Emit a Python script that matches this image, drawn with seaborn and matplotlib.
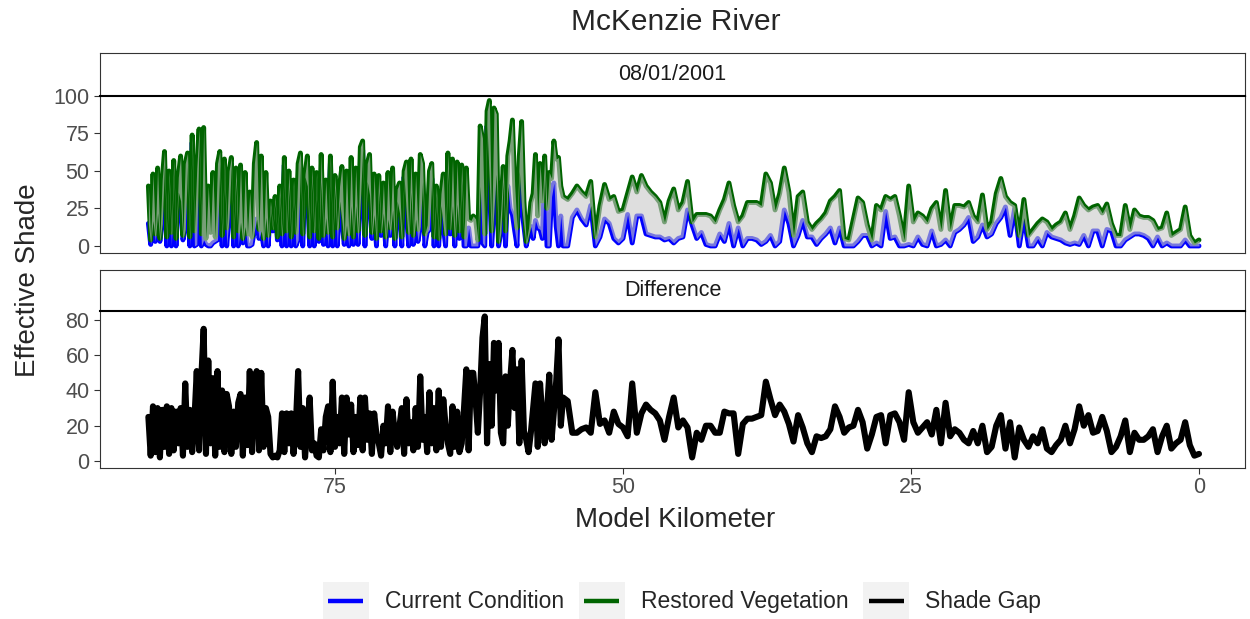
import numpy as np
import pandas as pd
import matplotlib
matplotlib.use("Agg")
import matplotlib.pyplot as plt
import seaborn as sns
from matplotlib.legend_handler import HandlerBase
from matplotlib.patches import Rectangle
from matplotlib.lines import Line2D

# ---------------- data ----------------
# upstream reach (km 91.2 -> 55.2) sampled every 0.2 km,
# downstream reach (km 54.8 -> 0) sampled every 0.4 km
km_upper_start, km_upper_step, n_upper = 91.2, 0.2, 181
km_lower_start, km_lower_step = 54.8, 0.4

restored = [
    # upstream reach
    40, 4, 48, 8, 52, 5, 44, 63, 6, 50,
    9, 57, 5, 46, 60, 7, 55, 62, 6, 74,
    10, 52, 78, 8, 79, 5, 40, 9, 49, 6,
    55, 63, 7, 58, 12, 50, 59, 6, 52, 10,
    54, 5, 49, 8, 36, 6, 55, 69, 11, 60,
    5, 49, 7, 30, 12, 33, 6, 40, 8, 59,
    10, 50, 6, 44, 9, 55, 62, 8, 48, 60,
    6, 52, 10, 49, 5, 61, 7, 44, 9, 60,
    6, 47, 12, 40, 53, 5, 50, 8, 59, 6,
    52, 10, 66, 70, 7, 55, 61, 9, 48, 5,
    47, 10, 42, 6, 49, 12, 52, 5, 38, 42,
    6, 50, 56, 9, 58, 7, 48, 11, 61, 55,
    8, 14, 50, 55, 6, 40, 5, 35, 48, 8,
    62, 12, 58, 7, 56, 10, 54, 6, 52, 18,
    17, 20, 18, 4, 80, 72, 8, 90, 97, 10,
    92, 88, 3, 25, 53, 10, 60, 70, 84, 40,
    12, 60, 83, 30, 3, 12, 29, 35, 61, 20,
    55, 30, 60, 25, 49, 45, 70, 58, 59, 40,
    33,
    # downstream reach
    31, 35, 40, 36, 33, 43, 6, 27, 41,
    31, 33, 23, 24, 35, 46, 36, 47, 40, 36,
    33, 29, 16, 30, 38, 24, 29, 43, 16, 21,
    21, 21, 20, 16, 24, 31, 42, 27, 16, 20,
    29, 29, 29, 27, 48, 42, 24, 35, 52, 36,
    7, 33, 36, 16, 11, 15, 18, 22, 30, 33,
    37, 5, 4, 18, 32, 29, 14, 4, 27, 24,
    33, 31, 33, 20, 4, 40, 16, 22, 20, 16,
    25, 29, 11, 37, 11, 27, 27, 26, 29, 20,
    16, 34, 11, 16, 35, 45, 33, 29, 27, 7,
    31, 7, 11, 15, 18, 16, 11, 14, 16, 22,
    11, 20, 32, 27, 24, 26, 27, 22, 28, 15,
    7, 7, 27, 11, 24, 20, 19, 19, 17, 11,
    12, 22, 7, 9, 11, 26, 7, 2, 4,
]

shade_gap = [
    # upstream reach
    25, 3, 31, 5, 30, 2, 29, 8, 31, 4,
    30, 6, 28, 10, 30, 3, 44, 8, 29, 5,
    24, 51, 6, 48, 75, 4, 57, 10, 47, 3,
    51, 8, 40, 5, 38, 31, 4, 28, 8, 33,
    38, 3, 36, 9, 51, 5, 45, 51, 6, 50,
    8, 30, 25, 4, 2, 3, 2, 6, 27, 5,
    27, 10, 27, 4, 20, 51, 8, 30, 2, 20,
    36, 6, 10, 3, 2, 18, 6, 25, 31, 5,
    45, 8, 25, 10, 36, 4, 36, 15, 32, 5,
    25, 9, 36, 6, 36, 12, 27, 4, 27, 15,
    10, 3, 20, 10, 31, 5, 28, 15, 8, 20,
    30, 4, 35, 10, 22, 6, 30, 8, 48, 12,
    25, 5, 39, 10, 30, 6, 40, 8, 35, 20,
    10, 4, 31, 8, 28, 5, 10, 30, 52, 6,
    50, 50, 35, 16, 40, 70, 82, 10, 55, 20,
    67, 40, 67, 16, 10, 48, 20, 45, 63, 30,
    52, 10, 57, 17, 12, 5, 16, 30, 44, 8,
    44, 25, 10, 28, 49, 12, 28, 45, 69, 20,
    36,
    # downstream reach
    34, 16, 16, 18, 19, 16, 39, 21, 23,
    16, 28, 21, 19, 14, 44, 16, 27, 32, 29,
    27, 23, 12, 25, 36, 19, 23, 19, 2, 16,
    12, 20, 20, 16, 16, 28, 27, 27, 4, 21,
    24, 24, 25, 26, 45, 35, 26, 32, 28, 21,
    11, 26, 19, 10, 5, 14, 13, 14, 18, 31,
    25, 16, 19, 20, 29, 22, 7, 15, 25, 26,
    10, 26, 27, 22, 12, 39, 22, 16, 19, 22,
    15, 29, 10, 33, 14, 18, 16, 12, 10, 17,
    10, 20, 5, 8, 20, 26, 7, 22, 2, 19,
    12, 8, 14, 10, 18, 7, 5, 9, 12, 20,
    10, 18, 31, 20, 26, 16, 17, 25, 17, 5,
    8, 14, 23, 5, 16, 12, 12, 14, 18, 5,
    14, 20, 7, 10, 12, 22, 9, 3, 4,
]

series_names = ["Current Condition", "Restored Vegetation", "Shade Gap"]
series_colors = ["#0000FF", "#006400", "#000000"]
top_yticks = [0, 25, 50, 75, 100]
bottom_yticks = [0, 20, 40, 60, 80]
x_ticks = [0, 25, 50, 75]
strip_labels = ["08/01/2001", "Difference"]

# ---------------- derived table ----------------
n = len(restored)
n_lower = n - n_upper
model_km = np.round(np.concatenate([
    km_upper_start - km_upper_step * np.arange(n_upper),
    km_lower_start - km_lower_step * np.arange(n_lower),
]), 2)
restored_a = np.array(restored, dtype=float)
gap_a = np.array(shade_gap, dtype=float)
current_a = np.clip(restored_a - gap_a, 0, None)

df_top = pd.DataFrame({
    "km": np.concatenate([model_km, model_km]),
    "shade": np.concatenate([current_a, restored_a]),
    "series": [series_names[0]] * n + [series_names[1]] * n,
})
df_gap = pd.DataFrame({"km": model_km, "shade": gap_a})

# ---------------- style ----------------
sns.set_style("ticks")
plt.rcParams["font.family"] = ["Liberation Sans", "DejaVu Sans"]

W, H = 1250, 619
fig = plt.figure(figsize=(W / 100, H / 100), dpi=100)

def fx(px):
    return px / W

def fy(px):
    return 1 - px / H

left_px, right_px = 100, 1245
pw = fx(right_px - left_px)

strip1 = fig.add_axes([fx(left_px), fy(96), pw, (96 - 53) / H])
ax1 = fig.add_axes([fx(left_px), fy(253), pw, (253 - 96) / H])
strip2 = fig.add_axes([fx(left_px), fy(311), pw, (311 - 270) / H])
ax2 = fig.add_axes([fx(left_px), fy(468), pw, (468 - 311) / H])

border = "#333333"
tick_color = "#4D4D4D"

for s, lab in zip([strip1, strip2], strip_labels):
    s.set_facecolor("white")
    s.set_xticks([])
    s.set_yticks([])
    for sp in s.spines.values():
        sp.set_color(border)
        sp.set_linewidth(0.8)
    s.text(0.5, 0.5, lab, transform=s.transAxes, ha="center", va="center",
           fontsize=15.5, color="#1A1A1A")

# top panel
palette = {series_names[0]: series_colors[0], series_names[1]: series_colors[1]}
sns.lineplot(data=df_top, x="km", y="shade", hue="series", palette=palette,
             estimator=None, sort=False, linewidth=3.5, legend=False, ax=ax1,
             solid_joinstyle="round", solid_capstyle="round")
ax1.fill_between(model_km, current_a, restored_a, color="#C8C8C8", alpha=0.6,
                 linewidth=0, zorder=3)

# bottom panel
sns.lineplot(data=df_gap, x="km", y="shade", color=series_colors[2],
             estimator=None, sort=False, linewidth=4.4, ax=ax2,
             solid_joinstyle="round", solid_capstyle="round")

xl = ((1199 - left_px) / 11.52, (1199 - right_px) / 11.52)
for ax in (ax1, ax2):
    ax.set_xlim(xl)
    ax.set_xlabel("")
    ax.set_ylabel("")
    ax.grid(False)
    ax.set_facecolor("white")
    for sp in ax.spines.values():
        sp.set_visible(True)
        sp.set_color(border)
        sp.set_linewidth(0.8)
    ax.tick_params(axis="y", length=4.5, width=0.8, color=border,
                   labelcolor=tick_color, labelsize=15.5, pad=3)

ax1.set_ylim(-4.7, 100)
ax1.set_yticks(top_yticks)
ax1.tick_params(axis="x", bottom=False, labelbottom=False)
ax1.spines["top"].set_color("black")
ax1.spines["top"].set_linewidth(1.5)

ax2.set_ylim(-4.0, 85.1)
ax2.set_yticks(bottom_yticks)
ax2.set_xticks(x_ticks)
ax2.tick_params(axis="x", length=4.5, width=0.8, color=border,
                labelcolor=tick_color, labelsize=15.5, pad=2)
ax2.spines["top"].set_color("black")
ax2.spines["top"].set_linewidth(1.5)

# titles
fig.text(fx(676), fy(22), "McKenzie River", ha="center", va="center", fontsize=21.5)
fig.text(fx(675), fy(520), "Model Kilometer", ha="center", va="center", fontsize=20)
fig.text(fx(28), fy(280), "Effective Shade", ha="center", va="center",
         rotation=90, fontsize=20)

# legend with grey key boxes
class KeyBox(HandlerBase):
    def create_artists(self, legend, orig_handle, xdescent, ydescent, width,
                       height, fontsize, trans):
        box = Rectangle((-xdescent, -ydescent - 0.1 * height), width, height * 1.2,
                        facecolor="#F2F2F2", edgecolor="none", transform=trans)
        y = -ydescent + height / 2
        ln = Line2D([-xdescent + 0.12 * width, -xdescent + 0.88 * width], [y, y],
                    color=orig_handle.get_color(), linewidth=3.2,
                    solid_capstyle="butt", transform=trans)
        return [box, ln]

handles = [Line2D([], [], color=c) for c in series_colors]
fig.legend(handles, series_names, handler_map={Line2D: KeyBox()},
           loc="center", bbox_to_anchor=(fx(682), fy(601)), ncol=3,
           frameon=False, fontsize=16.5, handlelength=2.0, handleheight=1.8,
           handletextpad=0.7, columnspacing=0.65, borderpad=0, borderaxespad=0)

fig.savefig("out.png", dpi=100)
